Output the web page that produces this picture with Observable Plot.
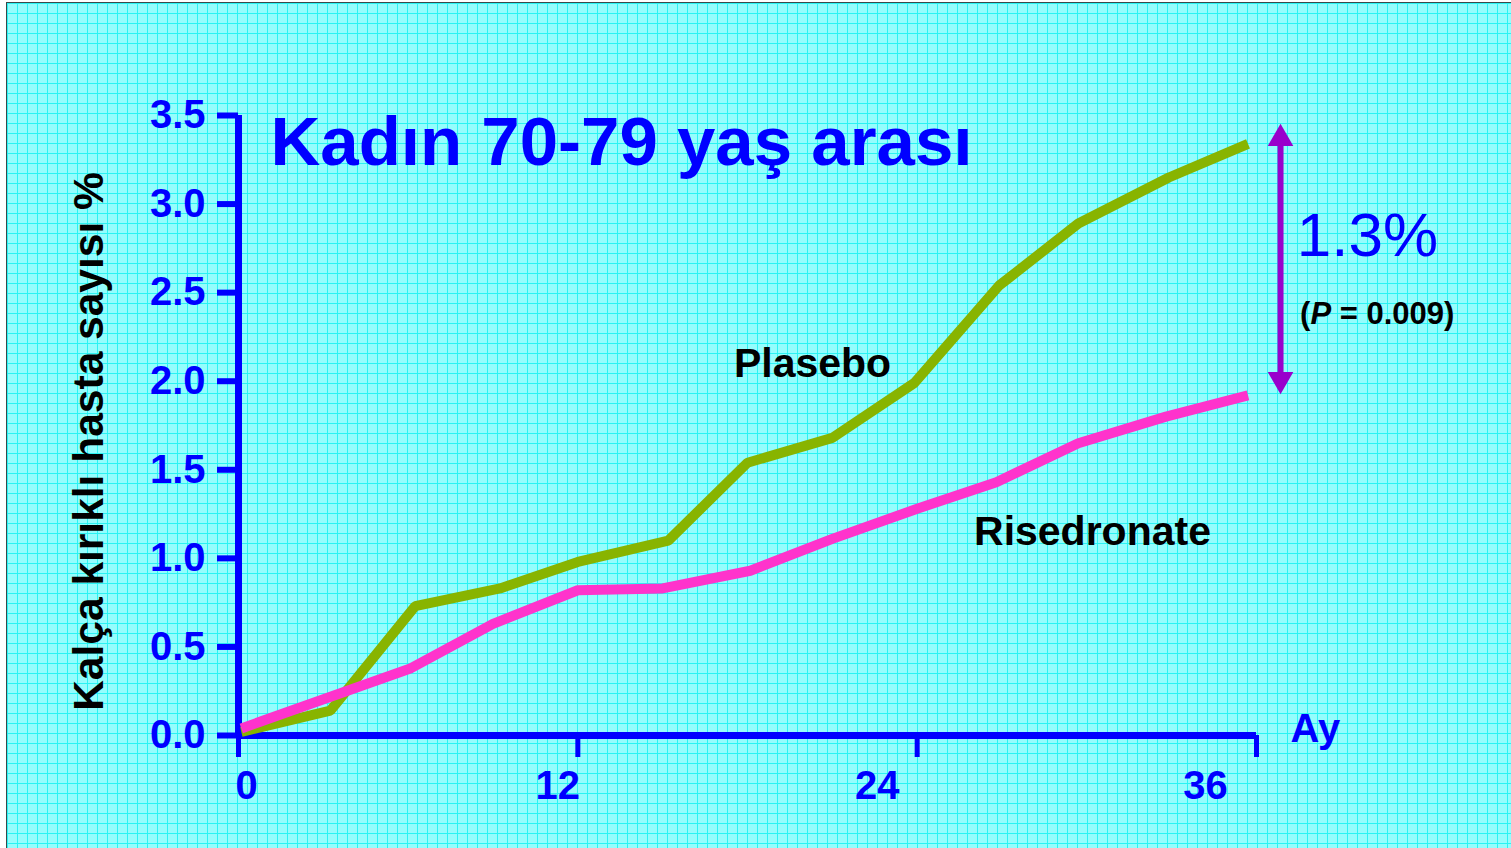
<!DOCTYPE html>
<html>
<head>
<meta charset="utf-8">
<script src="https://cdn.jsdelivr.net/npm/d3@7"></script>
<script src="https://cdn.jsdelivr.net/npm/@observablehq/plot@0.6"></script>
<style>
  html, body { margin: 0; padding: 0; background: #ffffff; }
  #slide {
    position: absolute; left: 6px; top: 2px; width: 1505px; height: 846px;
    border-left: 1px solid #3a4a4a; border-top: 1px solid #3a4a4a;
    background-color: #95fdfd;
    background-image:
      linear-gradient(to right, #2af3f3 1px, transparent 1px),
      linear-gradient(to bottom, #2af3f3 1px, transparent 1px);
    background-size: 10px 10px;
    background-position: 0px 0px;
    overflow: hidden;
  }
  #slide svg { position: absolute; left: 0; top: 0; }
</style>
</head>
<body>
<div id="slide"></div>
<script>
// ---- data ----
const placeboMonths = [0.1, 3.25, 6.25, 9.25, 12.0, 15.2, 18.0, 21.0, 23.9, 26.9, 29.7, 32.9, 35.7];
const placeboValues = [0.02, 0.14, 0.73, 0.83, 0.98, 1.10, 1.54, 1.68, 1.99, 2.54, 2.89, 3.15, 3.34];
const risedronateMonths = [0.1, 6.1, 9.0, 12.0, 15.0, 18.1, 21.0, 24.0, 26.8, 29.7, 32.8, 35.7];
const risedronateValues = [0.04, 0.38, 0.63, 0.82, 0.83, 0.93, 1.11, 1.28, 1.43, 1.65, 1.80, 1.92];
const xTicks = [0, 12, 24, 36];
const yTicks = [0, 0.5, 1.0, 1.5, 2.0, 2.5, 3.0, 3.5];
const titleText = "Kadın 70-79 yaş arası";
const yTitle = "Kalça kırıklı hasta sayısı %";
const xTitle = "Ay";
const seriesLabels = [
  {text: "Plasebo", month: 20.3, value: 2.10},
  {text: "Risedronate", month: 30.2, value: 1.15}
];
const diffText = "1.3%";
const pText = "(P = 0.009)";
const arrowMonth = 36.85;
const arrowFrom = 2.01;
const arrowTo = 3.37;
const diffPos = {month: 39.92, value: 2.82};
const pPos = {month: 40.27, value: 2.38};

// ---- styles ----
const BLUE = "#0000ff";
const GREEN = "#88b400";
const PINK = "#ff33cc";
const PURPLE = "#9900cc";
const xLabelShift = [8, -20, -40, -51];

const placebo = placeboMonths.map((m, i) => ({month: m, value: placeboValues[i]}));
const risedronate = risedronateMonths.map((m, i) => ({month: m, value: risedronateValues[i]}));

const chart = Plot.plot({
  width: 1504,
  height: 845,
  marginLeft: 231,
  marginRight: 255,
  marginTop: 112,
  marginBottom: 113,
  style: {background: "transparent", overflow: "visible", fontFamily: "'Liberation Sans', Arial, sans-serif"},
  x: {domain: [0, 36]},
  y: {domain: [0, 3.5]},
  marks: [
    // axes
    Plot.axisY({ticks: yTicks, tickFormat: d3.format(".1f"), tickSize: 21, tickPadding: 12,
      stroke: BLUE, strokeWidth: 6, fill: BLUE, fontSize: 40, fontWeight: "bold", label: null}),
    Plot.axisX({ticks: xTicks, tickFormat: () => "", tickSize: 22, stroke: BLUE, strokeWidth: 5, label: null}),
    Plot.ruleX([0], {y1: 0, y2: 3.5, stroke: BLUE, strokeWidth: 7}),
    Plot.ruleY([0], {x1: 0, x2: 36, stroke: BLUE, strokeWidth: 7}),
    ...xTicks.map((t, i) => Plot.text([t], {x: d => d, frameAnchor: "bottom", dx: xLabelShift[i], dy: 63,
      text: d => String(d), fill: BLUE, fontSize: 40, fontWeight: "bold"})),
    Plot.text([xTitle], {x: () => 36, y: () => 0, text: d => d, textAnchor: "start", dx: 34, dy: -6,
      fill: BLUE, fontSize: 40, fontWeight: "bold"}),
    Plot.text([yTitle], {frameAnchor: "left", text: d => d, rotate: -90, textAnchor: "middle", dx: -149, dy: 16,
      fill: "#000000", fontSize: 42.5, fontWeight: "bold"}),
    // title
    Plot.text([titleText], {frameAnchor: "top-left", text: d => d, textAnchor: "start", lineAnchor: "top",
      dx: 32, dy: 0, fill: BLUE, fontSize: 69, fontWeight: "bold"}),
    // series
    Plot.line(placebo, {x: "month", y: "value", stroke: GREEN, strokeWidth: 10, strokeLinejoin: "miter", strokeLinecap: "butt"}),
    Plot.line(risedronate, {x: "month", y: "value", stroke: PINK, strokeWidth: 10, strokeLinejoin: "miter", strokeLinecap: "butt"}),
    Plot.text(seriesLabels, {x: "month", y: "value", text: "text", fill: "#000000", fontSize: 41, fontWeight: "bold"}),
    // difference arrow
    Plot.ruleX([arrowMonth], {y1: arrowFrom, y2: arrowTo, stroke: PURPLE, strokeWidth: 6}),
    Plot.dot([{m: arrowMonth, v: arrowTo, r: 0}, {m: arrowMonth, v: arrowFrom, r: 180}],
      {x: "m", y: "v", rotate: "r", symbol: "triangle", r: 9.5, fill: PURPLE, stroke: null}),
    Plot.text([diffText], {x: () => diffPos.month, y: () => diffPos.value, text: d => d,
      fill: BLUE, fontSize: 62, fontWeight: "normal"}),
    Plot.text([pText], {x: () => pPos.month, y: () => pPos.value, text: d => d,
      fill: "#000000", fontSize: 31, fontWeight: "bold"})
  ]
});

d3.select(chart).selectAll("text")
  .filter(function() { return this.textContent === pText; })
  .each(function() {
    const t = d3.select(this);
    t.text(null);
    t.append("tspan").text("(");
    t.append("tspan").attr("font-style", "italic").text("P");
    t.append("tspan").text(" = 0.009)");
  });

document.getElementById("slide").appendChild(chart);
</script>
</body>
</html>
